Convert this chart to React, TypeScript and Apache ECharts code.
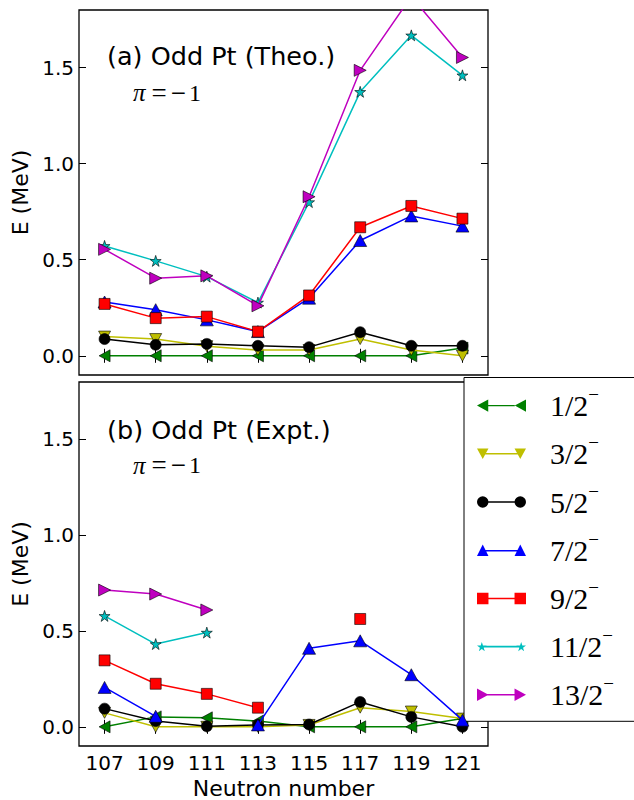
import React, { useEffect, useRef } from "react";
import * as echarts from "echarts";

const neutrons = ["107", "109", "111", "113", "115", "117", "119", "121"];
const spinNames = ["1/2", "3/2", "5/2", "7/2", "9/2", "11/2", "13/2"];
const yTickValues = [0, 0.5, 1.0, 1.5];

// (a) theory
const theo12 = [0, 0, 0, 0, 0, 0, 0, 0.04];
const theo32 = [0.1, 0.087, 0.05, 0.03, 0.03, 0.087, 0.03, 0.0];
const theo52 = [0.087, 0.057, 0.062, 0.052, 0.045, 0.123, 0.052, 0.052];
const theo72 = [0.28, 0.24, 0.187, 0.126, 0.3, 0.6, 0.728, 0.675];
const theo92 = [0.27, 0.196, 0.204, 0.126, 0.314, 0.669, 0.78, 0.714];
const theo112 = [0.572, 0.494, 0.412, 0.277, 0.8, 1.374, 1.668, 1.46];
const theo132 = [0.554, 0.404, 0.416, 0.26, 0.828, 1.486, 1.87, 1.553];

// (b) experiment
const expt12 = [0, 0.052, 0.047, 0.03, 0, 0, 0, 0.043];
const expt32 = [0.073, 0, 0, 0, 0.01, 0.1, 0.08, 0.043];
const expt52 = [0.095, 0.03, 0.003, 0.01, 0.012, 0.13, 0.052, 0];
const expt72 = [0.206, 0.055, null, 0.01, 0.41, 0.449, 0.272, 0.035];
const expt92 = [0.347, 0.225, 0.172, 0.1, null, 0.563, null, null];
const expt112 = [0.579, 0.432, 0.492, null, null, null, null, null];
const expt132 = [0.714, 0.693, 0.61, null, null, null, null, null];

const theoData = [theo12, theo32, theo52, theo72, theo92, theo112, theo132];
const exptData = [expt12, expt32, expt52, expt72, expt92, expt112, expt132];

const colors = ["#008000", "#bfbf00", "#000000", "#0000ff", "#ff0000", "#00bfbf", "#bf00bf"];

const STAR =
  "path://M50,0 L61.8,35.4 L99,35.4 L69,57.3 L80.3,92.7 L50,70.8 L19.7,92.7 L31,57.3 L1,35.4 L38.2,35.4 Z";
const symbols = [
  "path://M0,5 L10,0 L10,10 Z",
  "path://M0,0 L10,0 L5,10 Z",
  "circle",
  "path://M5,0 L10,10 L0,10 Z",
  "rect",
  STAR,
  "path://M0,0 L10,5 L0,10 Z",
];
const symbolSizes: any[] = [[11, 12], [12, 11], 11, [13, 12], 11, 11, [12, 12]];

const LINE = "M11.5,6.3 L37.5,6.3 L37.5,7.7 L11.5,7.7 Z";
const legendIcons = [
  "path://M0.5,7 L11.5,1 L11.5,13 Z " + LINE + " M37.5,7 L48.5,1 L48.5,13 Z",
  "path://M1,2 L12,2 L6.5,12 Z M6.5,6.3 L42.5,6.3 L42.5,7.7 L6.5,7.7 Z M37,2 L48,2 L42.5,12 Z",
  "path://M1,7 A5.5,5.5,0,1,1,12,7 A5.5,5.5,0,1,1,1,7 Z M6.5,6.3 L42.5,6.3 L42.5,7.7 L6.5,7.7 Z M37,7 A5.5,5.5,0,1,1,48,7 A5.5,5.5,0,1,1,37,7 Z",
  "path://M6.5,1 L12,12 L1,12 Z M6.5,6.3 L42.5,6.3 L42.5,7.7 L6.5,7.7 Z M42.5,1 L48,12 L37,12 Z",
  "path://M1,1.5 L12,1.5 L12,12.5 L1,12.5 Z M6.5,6.3 L42.5,6.3 L42.5,7.7 L6.5,7.7 Z M37,1.5 L48,1.5 L48,12.5 L37,12.5 Z",
  "path://M6.5,2.8 L7.56,5.99 L10.91,5.99 L8.21,7.96 L9.23,11.14 L6.5,9.17 L3.77,11.14 L4.79,7.96 L2.09,5.99 L5.44,5.99 Z M6.5,6.3 L42.5,6.3 L42.5,7.7 L6.5,7.7 Z M42.5,2.8 L43.56,5.99 L46.91,5.99 L44.21,7.96 L45.23,11.14 L42.5,9.17 L39.77,11.14 L40.79,7.96 L38.09,5.99 L41.44,5.99 Z",
  "path://M1,1 L12,7 L1,13 Z M6.5,6.3 L42.5,6.3 L42.5,7.7 L6.5,7.7 Z M37,1 L48,7 L37,13 Z",
];

const SANS = "DejaVu Sans";
const SERIF = "Liberation Serif";

function makeXAxis(gridIndex: number, position: string, labels: boolean, name?: string) {
  return {
    type: "category",
    gridIndex,
    position,
    data: neutrons,
    boundaryGap: true,
    axisLine: { show: false },
    axisTick: { show: true, inside: true, length: 7, alignWithLabel: true, interval: 0, lineStyle: { color: "#000", width: 1 } },
    axisLabel: { show: labels, interval: 0, margin: 7, fontFamily: SANS, fontSize: 20, color: "#000" },
    splitLine: { show: false },
    name: name || "",
    nameLocation: "middle",
    nameGap: 31,
    nameTextStyle: { fontFamily: SANS, fontSize: 22, color: "#000" },
  };
}

function makeYAxis(gridIndex: number, position: string, labels: boolean, name?: string) {
  return {
    type: "value",
    gridIndex,
    position,
    min: -0.1,
    max: 1.8,
    axisLine: { show: false },
    axisTick: { show: true, inside: true, length: 7, customValues: yTickValues, lineStyle: { color: "#000", width: 1 } },
    axisLabel: {
      show: labels,
      customValues: yTickValues,
      margin: 5,
      fontFamily: SANS,
      fontSize: 20,
      color: "#000",
      formatter: (v: number) => v.toFixed(1),
    },
    splitLine: { show: false },
    name: name || "",
    nameLocation: "middle",
    nameGap: 46,
    nameTextStyle: { fontFamily: SANS, fontSize: 22, color: "#000" },
  };
}

function makeSeries(data: (number | null)[][], axisIdx: number) {
  return data.map((vals, i) => ({
    type: "line",
    name: spinNames[i],
    xAxisIndex: axisIdx,
    yAxisIndex: axisIdx,
    data: vals,
    connectNulls: false,
    symbol: symbols[i],
    symbolSize: symbolSizes[i],
    showSymbol: true,
    showAllSymbol: true,
    clip: true,
    lineStyle: { color: colors[i], width: 1.5 },
    itemStyle: { color: colors[i], borderColor: "#000", borderWidth: 0.6 },
    emphasis: { disabled: true },
    z: 2 + i,
  }));
}

function piText(x: number, y: number) {
  return {
    type: "text",
    x,
    y,
    style: {
      text: "{i|π}{e|=}{m|−}{o|1}",
      verticalAlign: "middle",
      align: "left",
      rich: {
        i: { fontFamily: SERIF, fontSize: 25, fontStyle: "italic", fill: "#000" },
        e: { fontFamily: SERIF, fontSize: 27, fill: "#000", padding: [0, 0, 0, 6] },
        m: { fontFamily: SERIF, fontSize: 27, fill: "#000", padding: [0, 0, 0, 4] },
        o: { fontFamily: SERIF, fontSize: 24, fill: "#000", padding: [0, 0, 0, 3] },
      },
    },
  };
}

function titleText(x: number, y: number, text: string) {
  return {
    type: "text",
    x,
    y,
    style: { text, fontFamily: SANS, fontSize: 25.5, fill: "#000", align: "left", verticalAlign: "middle" },
  };
}

export default function App() {
  const ref = useRef<HTMLDivElement>(null);
  useEffect(() => {
    if (!ref.current) return;
    const chart = echarts.init(ref.current, null, { renderer: "svg" });
    const option: any = {
      animation: false,
      backgroundColor: "#ffffff",
      grid: [
        { left: 79, top: 10, width: 409, height: 365, show: true, borderColor: "#000", borderWidth: 1.3, backgroundColor: "transparent" },
        { left: 79, top: 382, width: 409, height: 366, show: true, borderColor: "#000", borderWidth: 1.3, backgroundColor: "transparent" },
      ],
      xAxis: [
        makeXAxis(0, "bottom", false),
        makeXAxis(0, "top", false),
        makeXAxis(1, "bottom", true, "Neutron number"),
        makeXAxis(1, "top", false),
      ],
      yAxis: [
        makeYAxis(0, "left", true, "E (MeV)"),
        makeYAxis(0, "right", false),
        makeYAxis(1, "left", true, "E (MeV)"),
        makeYAxis(1, "right", false),
      ],
      legend: {
        orient: "vertical",
        left: 464,
        top: 377.5,
        padding: [7.6, 60, 11.5, 13],
        itemGap: 12.7,
        itemWidth: 49,
        itemHeight: 14,
        selectedMode: false,
        backgroundColor: "#ffffff",
        borderColor: "#000",
        borderWidth: 1,
        borderRadius: 0,
        itemStyle: { borderWidth: 0 },
        data: spinNames.map((n, i) => ({ name: n, icon: legendIcons[i] })),
        formatter: (name: string) => `{a|${name}}{s|−}`,
        textStyle: {
          rich: {
            a: { fontFamily: SERIF, fontSize: 30, lineHeight: 28, padding: [0, 0, 0, 19], color: "#000" },
            s: { fontFamily: SERIF, fontSize: 19, lineHeight: 6, height: 6, verticalAlign: "top", color: "#000" },
          },
        },
      },
      graphic: [
        titleText(107, 56, "(a) Odd Pt (Theo.)"),
        piText(133, 92.5),
        titleText(107, 430, "(b) Odd Pt (Expt.)"),
        piText(133, 465),
      ],
      series: [...makeSeries(theoData, 0), ...makeSeries(exptData, 2)],
    };
    chart.setOption(option);
    return () => chart.dispose();
  }, []);
  return <div ref={ref} style={{ position: "absolute", left: 0, top: 0, width: 634, height: 800 }} />;
}
